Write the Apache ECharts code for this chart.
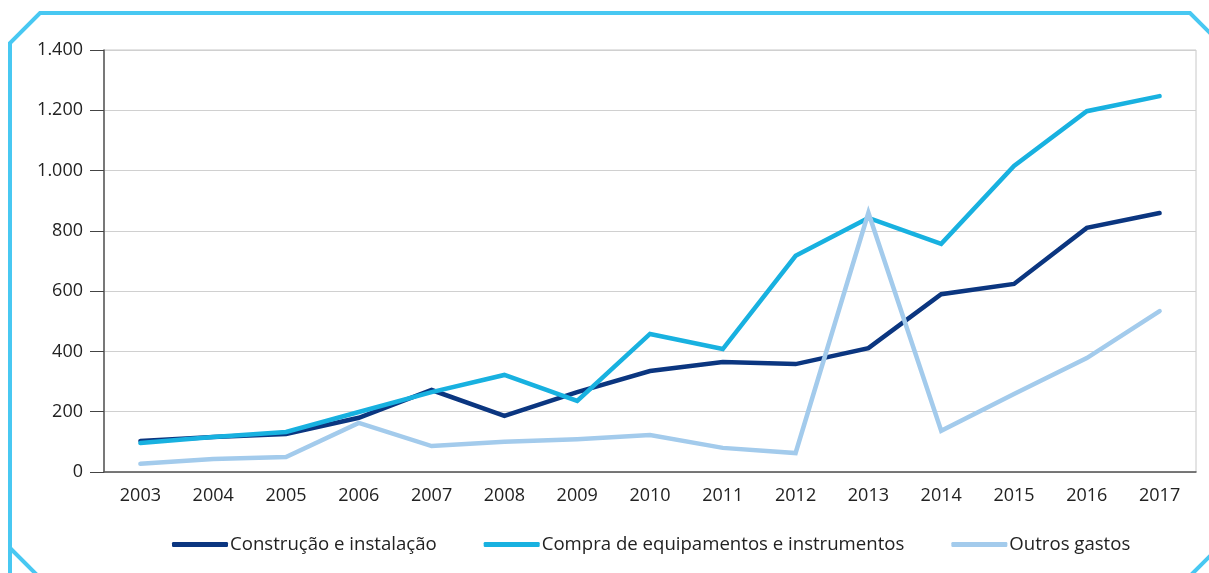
<!DOCTYPE html>
<html>
<head>
<meta charset="utf-8">
<script src="https://cdn.jsdelivr.net/npm/echarts@6/dist/echarts.min.js"></script>
<style>
    html, body { margin: 0; padding: 0; background: #fff; }
    #main { width: 1209px; height: 573px; }
</style>
</head>
<body>
<div id="main"></div>
<script>
var anos = ['2003', '2004', '2005', '2006', '2007', '2008', '2009', '2010',
    '2011', '2012', '2013', '2014', '2015', '2016', '2017'];
var construcao = [103, 116, 126, 180, 272, 186, 265, 335, 365, 358, 411, 590, 624, 810, 859];
var compra = [96, 116, 133, 199, 265, 322, 236, 458, 408, 717, 843, 757, 1015, 1197, 1247];
var outros = [27, 43, 50, 163, 86, 100, 109, 123, 80, 63, 860, 137, 259, 378, 534];
var nomes = ['Construção e instalação', 'Compra de equipamentos e instrumentos', 'Outros gastos'];
var cores = ['#0b3680', '#18b1e0', '#a3cbec'];

var fonte = '"Open Sans", "Noto Sans", sans-serif';

var myChart = echarts.init(document.getElementById('main'));

function serie(i, dados) {
    return {
        name: nomes[i],
        type: 'line',
        data: dados,
        symbol: 'none',
        lineStyle: { width: 4.5, color: cores[i], cap: 'round', join: 'miter' },
        itemStyle: { color: cores[i] }
    };
}

var option = {
    animation: false,
    textStyle: { fontFamily: fonte },
    grid: {
        left: 104, right: 13, top: 50, bottom: 101,
        show: true, borderColor: '#c8c8c8', borderWidth: 1
    },
    legend: {
        data: nomes,
        top: 530,
        left: 167,
        itemWidth: 56,
        itemHeight: 5,
        itemGap: 47,
        icon: 'roundRect',
        textStyle: { fontSize: 18.6, color: '#222', fontFamily: fonte, padding: [0, 0, 0, -3] }
    },
    xAxis: {
        type: 'category',
        data: anos,
        boundaryGap: true,
        axisLine: { lineStyle: { color: '#555', width: 1.5 } },
        axisTick: { length: 15, lineStyle: { color: '#444' } },
        axisLabel: { fontSize: 18, color: '#222', margin: 15 }
    },
    yAxis: {
        type: 'value',
        min: 0,
        max: 1400,
        interval: 200,
        axisLine: { show: true, lineStyle: { color: '#555', width: 1.5 } },
        axisTick: { show: true, inside: false, length: 14, lineStyle: { color: '#444' } },
        axisLabel: {
            fontSize: 18, color: '#222', margin: 21,
            formatter: function (v) { return v.toLocaleString('pt-BR'); }
        },
        splitLine: { lineStyle: { color: '#d0d0d0', width: 1 } }
    },
    graphic: [
        {
            type: 'polyline',
            shape: { points: [[10, 600], [10, 548], [10, 43], [40, 13], [1190, 13], [1225, 48], [1225, 541], [1193, 573], [1170, 596]] },
            style: { stroke: '#48c8f2', lineWidth: 4, fill: null }
        },
        {
            type: 'polyline',
            shape: { points: [[10, 548], [40, 578]] },
            style: { stroke: '#48c8f2', lineWidth: 4, fill: null }
        },
        {
            type: 'text',
            x: 73,
            y: 1,
            style: { text: '(em milhões de reais)', fontSize: 19, fill: '#666', fontFamily: fonte, verticalAlign: 'bottom' }
        }
    ],
    series: [
        serie(0, construcao),
        serie(1, compra),
        serie(2, outros)
    ]
};
myChart.setOption(option);
</script>
</body>
</html>
